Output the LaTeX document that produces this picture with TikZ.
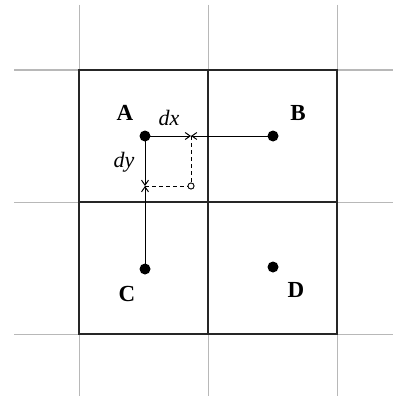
\documentclass[tikz,border=0pt]{standalone}
\usepackage{fontspec}
\setmainfont{Liberation Serif}
\usetikzlibrary{arrows.meta}
\tikzset{
  gridline/.style={draw=black!28, line width=1pt},
  boxline/.style={draw=black!85, line width=1.4pt},
  dot/.style={circle, fill=black, inner sep=0pt, minimum size=11pt},
  hole/.style={circle, draw=black, fill=white, line width=0.8pt, inner sep=0pt, minimum size=6pt},
  lbl/.style={font=\fontsize{23}{23}\selectfont\bfseries, inner sep=0pt},
  dlbl/.style={font=\fontsize{22}{22}\selectfont\itshape, inner sep=0pt},
  meas/.style={draw=black, line width=1pt, -{Straight Barb[length=5pt,width=7pt]}},
  guide/.style={draw=black, line width=0.9pt, dash pattern=on 4pt off 3pt}
}
\begin{document}
\begin{tikzpicture}[x=1pt,y=-1pt]
\useasboundingbox (0,0) rectangle (393,396);
\fill[white] (0,0) rectangle (393,396);
% grey grid lines
\foreach \yy in {70,202,334} \draw[gridline] (14,\yy) -- (393,\yy);
\foreach \xx in {79,208,337} \draw[gridline] (\xx,5) -- (\xx,396);
% dark cells
\draw[boxline] (79,70) rectangle (337,334);
\draw[boxline] (208,70) -- (208,334);
\draw[boxline] (79,202) -- (337,202);
% points
\node[dot] (A) at (145,136) {};
\node[dot] (B) at (273,136) {};
\node[dot] (C) at (145,269) {};
\node[dot] (D) at (273,267) {};
\node[hole] (P) at (191,186) {};
\coordinate (mx) at (191,136);
\coordinate (my) at (145,186);
% labels
\node[lbl] (lA) at (125,113) {A};
\node[lbl] (lB) at (298,113) {B};
\node[lbl] (lC) at (127,294) {C};
\node[lbl] (lD) at (296,290) {D};
\node[dlbl] (ldx) at (169,118) {dx};
\node[dlbl] (ldy) at (124,162) {dy};
% measurement lines
\draw[meas] (A.center) -- (mx);
\draw[meas] (B.center) -- (mx);
\draw[meas] (A.center) -- (my);
\draw[meas] (C.center) -- (my);
% guides
\draw[guide] (mx) -- (P.north);
\draw[guide] (my) -- (P.west);
\node[hole] at (P) {};
\end{tikzpicture}
\end{document}
